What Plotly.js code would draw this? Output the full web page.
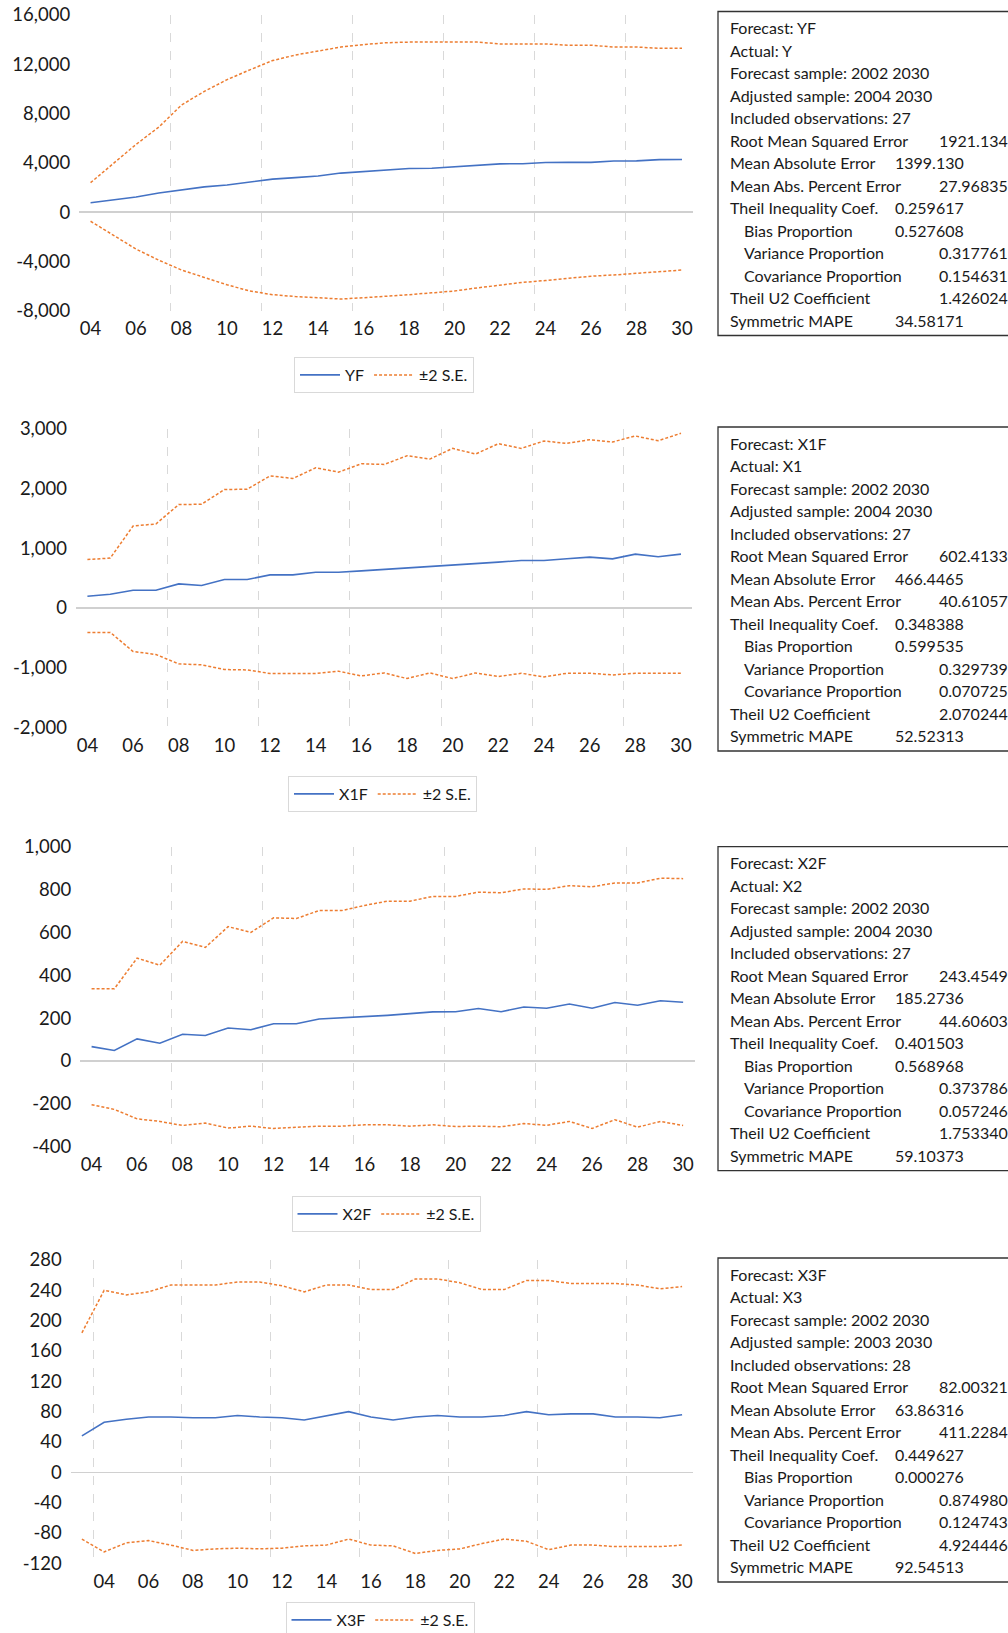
<!DOCTYPE html>
<html>
<head>
<meta charset="utf-8">
<script src="https://cdn.plot.ly/plotly-3.0.1.min.js"></script>
<style>
  html, body { margin: 0; padding: 0; background: #fff; overflow: hidden; }
  #chart { width: 1008px; height: 1633px; }
</style>
</head>
<body>
<div id="chart"></div>
<script>
// ---------- DATA ----------
const years = [2004,2005,2006,2007,2008,2009,2010,2011,2012,2013,2014,2015,2016,2017,2018,2019,2020,2021,2022,2023,2024,2025,2026,2027,2028,2029,2030];
const years3 = [2003,2004,2005,2006,2007,2008,2009,2010,2011,2012,2013,2014,2015,2016,2017,2018,2019,2020,2021,2022,2023,2024,2025,2026,2027,2028,2029,2030];

const yf      = [760,990,1230,1550,1820,2050,2200,2450,2680,2800,2930,3170,3290,3420,3540,3560,3680,3800,3920,3930,4030,4040,4040,4150,4160,4260,4270];
const yfUpper = [2390,3950,5500,6900,8700,9800,10750,11550,12300,12750,13100,13400,13600,13750,13800,13800,13800,13800,13650,13650,13650,13550,13550,13400,13400,13300,13300];
const yfLower = [-740,-1900,-3000,-3900,-4700,-5300,-5900,-6400,-6700,-6850,-6950,-7050,-6950,-6850,-6700,-6550,-6400,-6150,-5900,-5700,-5550,-5350,-5200,-5100,-4950,-4800,-4700];

const x1f      = [196,230,297,297,404,376,477,477,555,555,600,600,622,645,673,695,723,746,768,796,796,824,852,824,903,858,903];
const x1fUpper = [813,836,1374,1408,1733,1739,1985,1991,2215,2171,2350,2277,2417,2406,2552,2496,2675,2580,2754,2675,2799,2759,2821,2782,2883,2804,2928];
const x1fLower = [-409,-409,-729,-780,-937,-953,-1032,-1038,-1099,-1094,-1099,-1060,-1139,-1088,-1183,-1088,-1183,-1088,-1150,-1094,-1155,-1094,-1094,-1122,-1094,-1094,-1094];

const x2f      = [67,49,103,83,125,119,154,146,174,174,196,201,207,213,221,229,230,245,230,252,246,266,246,273,260,281,274];
const x2fUpper = [337,337,480,447,558,530,627,600,668,665,702,702,726,746,746,768,768,788,785,803,801,818,813,831,831,853,851];
const x2fLower = [-204,-226,-270,-282,-301,-290,-313,-304,-315,-310,-304,-304,-298,-298,-304,-298,-306,-304,-307,-292,-300,-282,-315,-274,-309,-282,-301];

const x3f      = [48,66,70,73,73,72,72,75,73,72,69,75,80,73,69,73,75,73,73,75,80,76,77,77,73,73,72,76];
const x3fUpper = [184,240,234,238,247,247,247,251,251,246,238,247,247,241,241,255,255,250,241,241,253,253,249,249,249,247,242,245];
const x3fLower = [-88,-105,-93,-90,-96,-103,-101,-100,-101,-100,-97,-96,-88,-96,-97,-107,-103,-101,-94,-88,-91,-102,-96,-96,-98,-98,-98,-96];

const xTickVals = [2004,2006,2008,2010,2012,2014,2016,2018,2020,2022,2024,2026,2028,2030];
const xTickText = ['04','06','08','10','12','14','16','18','20','22','24','26','28','30'];

const yTicks1 = [-8000,-4000,0,4000,8000,12000,16000];
const yText1  = ['-8,000','-4,000','0','4,000','8,000','12,000','16,000'];
const yTicks2 = [-2000,-1000,0,1000,2000,3000];
const yText2  = ['-2,000','-1,000','0','1,000','2,000','3,000'];
const yTicks3 = [-400,-200,0,200,400,600,800,1000];
const yText3  = ['-400','-200','0','200','400','600','800','1,000'];
const yTicks4 = [-120,-80,-40,0,40,80,120,160,200,240,280];
const yText4  = ['-120','-80','-40','0','40','80','120','160','200','240','280'];

const seriesNames = ['YF','X1F','X2F','X3F'];
const bandName = '\u00b12 S.E.';

const head1 = ['Forecast: YF','Actual: Y','Forecast sample: 2002 2030','Adjusted sample: 2004 2030','Included observations: 27'];
const head2 = ['Forecast: X1F','Actual: X1','Forecast sample: 2002 2030','Adjusted sample: 2004 2030','Included observations: 27'];
const head3 = ['Forecast: X2F','Actual: X2','Forecast sample: 2002 2030','Adjusted sample: 2004 2030','Included observations: 27'];
const head4 = ['Forecast: X3F','Actual: X3','Forecast sample: 2002 2030','Adjusted sample: 2003 2030','Included observations: 28'];

const statLabels = ['Root Mean Squared Error','Mean Absolute Error','Mean Abs. Percent Error','Theil Inequality Coef.','Bias Proportion','Variance Proportion','Covariance Proportion','Theil U2 Coefficient','Symmetric MAPE'];
const stats1 = ['1921.134','1399.130','27.96835','0.259617','0.527608','0.317761','0.154631','1.426024','34.58171'];
const stats2 = ['602.4133','466.4465','40.61057','0.348388','0.599535','0.329739','0.070725','2.070244','52.52313'];
const stats3 = ['243.4549','185.2736','44.60603','0.401503','0.568968','0.373786','0.057246','1.753340','59.10373'];
const stats4 = ['82.00321','63.86316','411.2284','0.449627','0.000276','0.874980','0.124743','4.924446','92.54513'];

// ---------- LAYOUT (pixel geometry) ----------
const W = 1008, H = 1633;
const px = v => v / W;
const py = v => 1 - v / H;

const BLUE = '#4472C4', ORANGE = '#ED7D31';
const FONT = 'Lato, "Open Sans", sans-serif';

const panels = [
  { x: years,  f: yf,  up: yfUpper,  lo: yfLower,  xr: [2003.5, 2030.5], dx: [79.2, 693.4], dy: [15, 310.7],     yt: yTicks1, ytt: yText1, leg: [384, 357],    box: [11.5, 335.5],   head: head1, st: stats1 },
  { x: years,  f: x1f, up: x1fUpper, lo: x1fLower, xr: [2003.5, 2030.5], dx: [76, 692.4],   dy: [429, 727.3],    yt: yTicks2, ytt: yText2, leg: [382.5, 776],  box: [427, 751],      head: head2, st: stats2 },
  { x: years,  f: x2f, up: x2fUpper, lo: x2fLower, xr: [2003.5, 2030.5], dx: [80.2, 694.5], dy: [846.7, 1146.7], yt: yTicks3, ytt: yText3, leg: [386, 1196],   box: [846.6, 1170.6], head: head3, st: stats3 },
  { x: years3, f: x3f, up: x3fUpper, lo: x3fLower, xr: [2002.5, 2030.5], dx: [70.8, 693.2], dy: [1260, 1563.3],  yt: yTicks4, ytt: yText4, leg: [380, 1602],   box: [1258, 1582],    head: head4, st: stats4 }
];

const valueCol = ['far','near','far','near','near','far','far','far','near'];
const indented = [false,false,false,false,true,true,true,false,false];

const traces = [];
const layout = {
  width: W, height: H,
  margin: { l: 0, r: 0, t: 0, b: 0, autoexpand: false },
  paper_bgcolor: '#ffffff', plot_bgcolor: '#ffffff',
  font: { family: FONT, color: '#1a1a1a', size: 15 },
  showlegend: true,
  shapes: [], annotations: []
};

panels.forEach((p, i) => {
  const n = i === 0 ? '' : String(i + 1);
  const xa = 'x' + n, ya = 'y' + n;
  const legName = 'legend' + n;
  traces.push({
    x: p.x, y: p.f, xaxis: xa, yaxis: ya, type: 'scatter', mode: 'lines',
    name: seriesNames[i], line: { color: BLUE, width: 1.6 }, legend: legName, hoverinfo: 'skip'
  });
  traces.push({
    x: p.x, y: p.up, xaxis: xa, yaxis: ya, type: 'scatter', mode: 'lines',
    name: bandName, legendgroup: 'se' + i, line: { color: ORANGE, width: 1.5, dash: '3px,2px' }, legend: legName, hoverinfo: 'skip'
  });
  traces.push({
    x: p.x, y: p.lo, xaxis: xa, yaxis: ya, type: 'scatter', mode: 'lines',
    name: bandName, legendgroup: 'se' + i, showlegend: false, line: { color: ORANGE, width: 1.5, dash: '3px,2px' }, legend: legName, hoverinfo: 'skip'
  });

  layout['xaxis' + n] = {
    domain: [px(p.dx[0]), px(p.dx[1])], anchor: ya, range: p.xr, fixedrange: true,
    tickmode: 'array', tickvals: xTickVals, ticktext: xTickText,
    showgrid: false, zeroline: false, showline: false, ticks: '',
    tickfont: { family: FONT, size: 18.5, color: '#1a1a1a' }, ticklabelstandoff: 5,
    minor: { tickmode: 'linear', tick0: 2003.5, dtick: 4, showgrid: true, gridcolor: '#d9d9d9', griddash: 'dash', gridwidth: 1, ticks: '' }
  };
  layout['yaxis' + n] = {
    domain: [py(p.dy[1]), py(p.dy[0])], anchor: xa, range: [p.yt[0], p.yt[p.yt.length - 1]], fixedrange: true,
    tickmode: 'array', tickvals: p.yt, ticktext: p.ytt,
    showgrid: false, zeroline: true, zerolinecolor: '#d0d0d0', zerolinewidth: 1.5, showline: false, ticks: '',
    tickfont: { family: FONT, size: 18.5, color: '#1a1a1a' }, ticklabelstandoff: 8
  };
  layout[legName] = {
    orientation: 'h', x: px(p.leg[0]), xanchor: 'center', y: py(p.leg[1]), yanchor: 'top',
    xref: 'paper', yref: 'paper', itemwidth: 40,
    bordercolor: '#d9d9d9', borderwidth: 1, bgcolor: '#ffffff',
    font: { family: FONT, size: 16, color: '#1a1a1a' }, traceorder: 'normal'
  };

  // statistics box
  layout.shapes.push({
    type: 'rect', xref: 'paper', yref: 'paper',
    x0: px(718), x1: px(1030), y0: py(p.box[0]), y1: py(p.box[1]),
    line: { color: '#333333', width: 1.3 }, fillcolor: 'rgba(0,0,0,0)'
  });
  const first = p.box[0] + 16.3, step = 22.5;
  const lines = p.head.concat(statLabels);
  lines.forEach((t, k) => {
    const isStat = k >= p.head.length;
    const si = k - p.head.length;
    layout.annotations.push({
      xref: 'paper', yref: 'paper', x: px(isStat && indented[si] ? 742 : 727.5), y: py(first + k * step),
      xanchor: 'left', yanchor: 'middle', showarrow: false, text: t,
      font: { family: FONT, size: 16, color: '#1a1a1a' }
    });
    if (isStat) {
      layout.annotations.push({
        xref: 'paper', yref: 'paper', x: px(valueCol[si] === 'far' ? 937 : 893), y: py(first + k * step),
        xanchor: 'left', yanchor: 'middle', showarrow: false, text: p.st[si],
        font: { family: FONT, size: 16, color: '#1a1a1a' }
      });
    }
  });
});

Plotly.newPlot('chart', traces, layout, { staticPlot: true, displayModeBar: false });
</script>
</body>
</html>
